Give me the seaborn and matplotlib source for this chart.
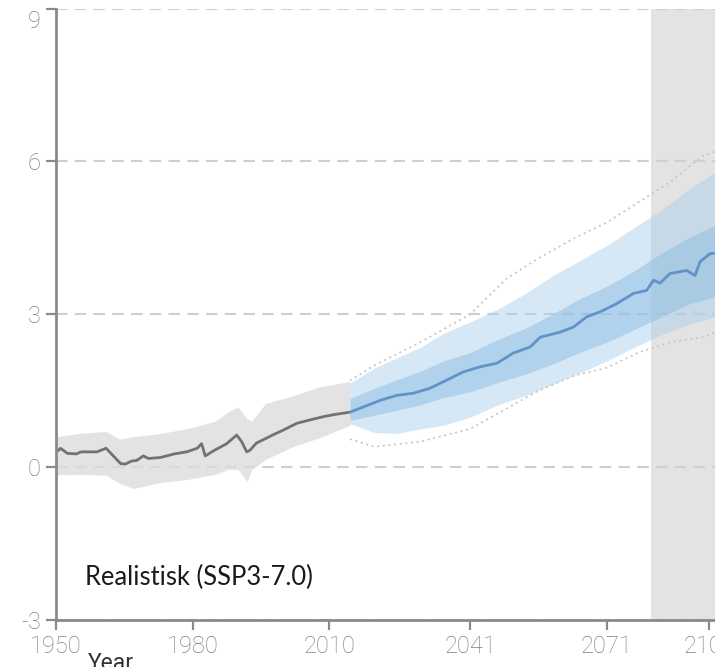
import matplotlib
matplotlib.use("Agg")
import matplotlib.pyplot as plt
import matplotlib.transforms as mtransforms
import seaborn as sns
import numpy as np
import pandas as pd

# ---------------- data ----------------
hist_years = [1950, 1951, 1952.5, 1954.5, 1955.5, 1959, 1961, 1962.6, 1964.2, 1965.2,
              1966.6, 1967.7, 1969.2, 1970.3, 1973, 1976, 1978.7, 1981, 1982, 1982.8,
              1984.6, 1987.5, 1989.7, 1990.8, 1991.9, 1992.6, 1994, 1997.6, 2000,
              2002.9, 2005.5, 2008.7, 2011, 2014.6]
hist_median = [0.29, 0.37, 0.27, 0.26, 0.30, 0.30, 0.37, 0.22, 0.07, 0.06,
               0.12, 0.13, 0.22, 0.17, 0.19, 0.26, 0.30, 0.37, 0.46, 0.22,
               0.32, 0.46, 0.63, 0.50, 0.30, 0.33, 0.47, 0.63, 0.73,
               0.86, 0.92, 0.99, 1.03, 1.08]

hist_band_years = [1950, 1955, 1961, 1964, 1967, 1973, 1979, 1985, 1988, 1990,
                   1992, 1993, 1996, 2002, 2008, 2014.6]
hist_upper = [0.60, 0.66, 0.70, 0.55, 0.60, 0.66, 0.76, 0.90, 1.10, 1.18,
              0.95, 0.90, 1.25, 1.40, 1.58, 1.68]
hist_lower = [-0.15, -0.14, -0.16, -0.32, -0.42, -0.30, -0.24, -0.14, -0.04, -0.05,
              -0.28, -0.05, 0.15, 0.40, 0.58, 0.82]

proj_years = [2014.6, 2017.5, 2021.2, 2024.9, 2028.5, 2032.2, 2035.9, 2039.5, 2043.2,
              2046.9, 2050.5, 2054.2, 2056.4, 2060.8, 2063.7, 2066.6, 2069.6, 2073.2,
              2076.9, 2079.8, 2081.3, 2082.7, 2084.9, 2088.6, 2090.4, 2091.5, 2093.7,
              2095]
proj_median = [1.08, 1.18, 1.31, 1.41, 1.45, 1.55, 1.71, 1.87, 1.97,
               2.04, 2.24, 2.36, 2.55, 2.65, 2.75, 2.95, 3.05, 3.21,
               3.41, 3.47, 3.67, 3.61, 3.80, 3.86, 3.76, 4.03, 4.19,
               4.20]

band_years = [2014.6, 2020, 2025, 2030, 2035, 2041, 2047, 2053, 2059, 2065,
              2071, 2077, 2083, 2089, 2095]
outer_upper = [1.65, 1.95, 2.15, 2.35, 2.62, 2.85, 3.10, 3.40, 3.75, 4.05,
               4.35, 4.70, 5.05, 5.45, 5.80]
outer_lower = [0.85, 0.68, 0.66, 0.75, 0.82, 0.98, 1.22, 1.40, 1.62, 1.85,
               2.08, 2.35, 2.60, 2.80, 2.95]
inner_upper = [1.35, 1.55, 1.72, 1.88, 2.08, 2.25, 2.50, 2.72, 3.00, 3.30,
               3.55, 3.85, 4.20, 4.50, 4.75]
inner_lower = [0.92, 1.02, 1.12, 1.22, 1.36, 1.48, 1.66, 1.82, 2.02, 2.25,
               2.45, 2.70, 2.95, 3.20, 3.35]

member_years = [2014.6, 2020, 2030, 2041, 2049, 2056, 2064, 2071, 2078, 2085, 2092, 2095]
member_high = [1.70, 2.00, 2.45, 3.00, 3.70, 4.10, 4.50, 4.80, 5.20, 5.60, 6.10, 6.20]
member_low = [0.55, 0.40, 0.50, 0.75, 1.15, 1.50, 1.80, 1.95, 2.25, 2.45, 2.55, 2.65]

y_ticks = [-3, 0, 3, 6, 9]
x_tick_years = [1950, 1980, 2010, 2041, 2071]
x_tick_labels = ["1950", "1980", "2010", "2041", "2071"]
last_tick_label = "2101"
scenario_label = "Realistisk (SSP3-7.0)"

# ---------------- style ----------------
sns.set_theme(style="white")
plt.rcParams["font.family"] = ["Roboto", "DejaVu Sans"]

fig = plt.figure(figsize=(7.15, 6.67), dpi=100)
ax = fig.add_axes([56 / 715, 47 / 667, 1 - 56 / 715, 611.4 / 667])

ax.set_xlim(1950, 2094.8)
ax.set_ylim(-3, 9)

# shaded future period
ax.axvspan(2080.8, 2200, color="#e3e3e3", zorder=0, lw=0)

# historical spread
ax.fill_between(hist_band_years, hist_lower, hist_upper, color="#dcdcdc",
                alpha=0.8, lw=0, zorder=2)

# projection spread
ax.fill_between(band_years, outer_lower, outer_upper, color="#a6cdec",
                alpha=0.45, lw=0, zorder=2)
ax.fill_between(band_years, inner_lower, inner_upper, color="#86b8e0",
                alpha=0.45, lw=0, zorder=3)

# extreme members (dotted)
mem = pd.DataFrame({"year": member_years, "high": member_high, "low": member_low})
sns.lineplot(data=mem, x="year", y="high", ax=ax, color="#c4c4c4",
             linestyle=(0, (1.2, 2.2)), lw=1.2, zorder=2.5)
sns.lineplot(data=mem, x="year", y="low", ax=ax, color="#c4c4c4",
             linestyle=(0, (1.2, 2.2)), lw=1.2, zorder=2.5)

# medians
hist = pd.DataFrame({"year": hist_years, "anomaly": hist_median})
proj = pd.DataFrame({"year": proj_years, "anomaly": proj_median})
sns.lineplot(data=hist, x="year", y="anomaly", ax=ax, color="#727272", lw=2, zorder=4)
sns.lineplot(data=proj, x="year", y="anomaly", ax=ax, color="#6193c8", lw=2, zorder=4)

# grid
ax.set_axisbelow(True)
ax.yaxis.grid(True, linestyle=(0, (5.5, 3.5)), color="#cfcfcf", lw=1.5, zorder=1)
ax.xaxis.grid(False)
for gl in ax.get_ygridlines():
    gl.set_zorder(1)

# spines
for s in ["top", "right"]:
    ax.spines[s].set_visible(False)
for s in ["left", "bottom"]:
    ax.spines[s].set_color("#8a8a8a")
    ax.spines[s].set_linewidth(2)
    ax.spines[s].set_zorder(5)

# ticks
ax.set_yticks(y_ticks)
ax.set_yticklabels([str(v) for v in y_ticks])
ax.set_xticks(x_tick_years + [2093.5])
ax.set_xticklabels(x_tick_labels + [last_tick_label])
ax.xaxis.get_major_ticks()[-1].tick1line.set_visible(False)
ax.tick_params(axis="both", which="major", direction="out", length=7.5, width=1.6,
               color="#8a8a8a", labelcolor="#808080", labelsize=17, pad=3.5,
               left=True, bottom=True)
for lab in ax.get_xticklabels() + ax.get_yticklabels():
    lab.set_fontweight("light")

# top y label sits slightly below its tick in the reference
top_lab = ax.yaxis.get_major_ticks()[-1].label1
top_lab.set_transform(top_lab.get_transform() +
                      mtransforms.ScaledTranslation(0, -0.10, fig.dpi_scale_trans))

ax.set_ylabel("")
ax.set_xlabel("Year", fontsize=16.5, color="#333333")
ax.xaxis.set_label_coords(0.084, -0.052)

ax.text(0.044, 0.069, scenario_label, transform=ax.transAxes,
        fontsize=18.4, color="#1a1a1a", va="center", ha="left",
        family=["Lato", "DejaVu Sans"])

fig.savefig("out.png", dpi=100)
